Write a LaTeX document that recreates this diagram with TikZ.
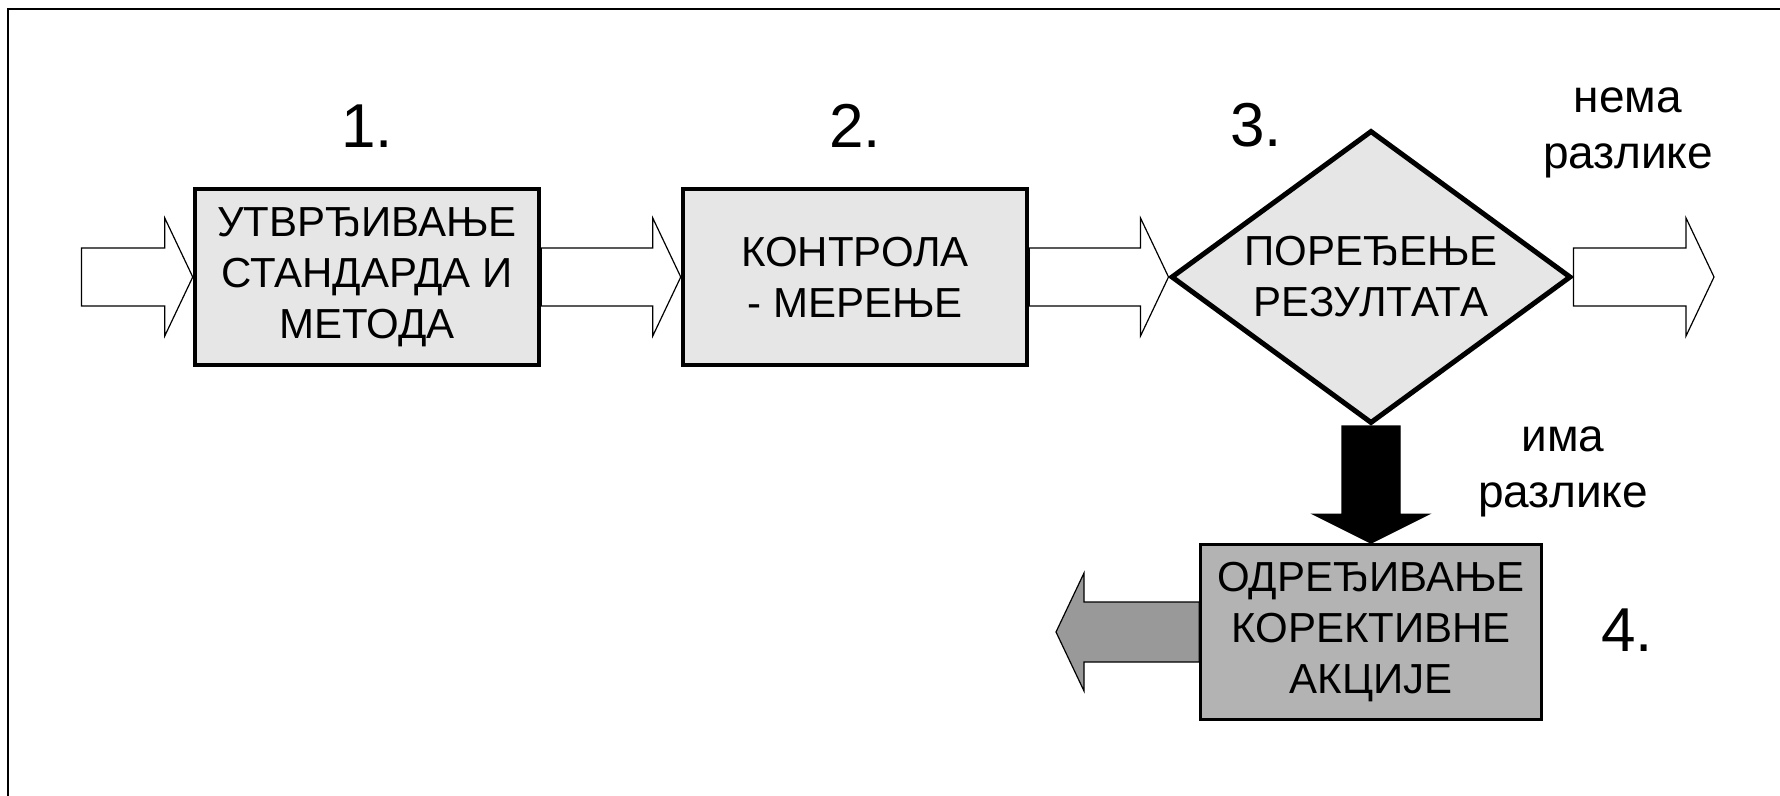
\documentclass[tikz,border=0pt]{standalone}
\usepackage{fontspec}
\setmainfont{Liberation Sans}
\usetikzlibrary{shapes.geometric,calc}
\pgfdeclarelayer{bg}
\pgfsetlayers{bg,main}
\definecolor{boxlight}{HTML}{E6E6E6}
\definecolor{boxdark}{HTML}{B3B3B3}
\definecolor{arrowgray}{HTML}{999999}
\newcommand{\boxfont}{\fontsize{21}{25.5}\selectfont}
\newcommand{\numfont}{\fontsize{31}{36}\selectfont}
\newcommand{\labfont}{\fontsize{23}{28}\selectfont}
% right-pointing block arrow: #1 = start point, #2 = tip
\newcommand{\rblk}[2]{%
  \draw[blk] ($(#1)+(0,-29)$) -- ($(#2)+(-28,-29)$) -- ($(#2)+(-28,-59)$) -- (#2)
    -- ($(#2)+(-28,59)$) -- ($(#2)+(-28,29)$) -- ($(#1)+(0,29)$) -- cycle;}
\tikzset{
  box/.style={draw, line width=2.25pt, fill=boxlight, align=center, inner sep=0pt,
    minimum width=172pt, minimum height=88pt, font=\boxfont},
  dec/.style={draw, shape=diamond, line width=2.5pt, fill=boxlight, align=center,
    inner sep=0pt, aspect=1.36, minimum width=200pt, minimum height=146.5pt, font=\boxfont},
  actbox/.style={draw, line width=1.4pt, fill=boxdark, align=center, inner sep=0pt,
    minimum width=170.5pt, minimum height=87.5pt, font=\boxfont},
  blk/.style={draw=black, line width=0.6pt, fill=white, line join=miter},
  num/.style={font=\numfont, inner sep=0pt, anchor=base},
  lab/.style={font=\labfont, align=center, inner sep=0pt},
  frameline/.style={line width=1pt}
}
\begin{document}
\begin{tikzpicture}[x=0.5pt,y=-0.5pt]
\useasboundingbox (0,0) rectangle (1780,796);
\draw[frameline] (1780,9.5) -- (8,9.5) -- (8,796);

\node[box] (b1) at (367,277) {УТВРЂИВАЊЕ\\СТАНДАРДА И\\МЕТОДА};
\node[box] (b2) at (855,277) {КОНТРОЛА\\- МЕРЕЊЕ};
\node[dec] (dia) at (1371,277) {ПОРЕЂЕЊЕ\\РЕЗУЛТАТА};
\node[actbox] (b4) at (1371,632) {ОДРЕЂИВАЊЕ\\КОРЕКТИВНЕ\\АКЦИЈЕ};

\node[num] (n1) at (367,148) {1.};
\node[num] (n2) at (855,148) {2.};
\node[num] (n3) at (1256,147) {3.};
\node[num] (n4) at (1627,651) {4.};

\node[lab] (nema) at (1628,133) {нема\\разлике};
\node[lab] (ima) at (1563,472) {има\\разлике};

\coordinate (in) at (81.5,277);
\coordinate (out) at (1714,277);
\coordinate (back) at (1056,632);

\begin{pgfonlayer}{bg}
\rblk{in}{b1.west}
\rblk{b1.east}{b2.west}
\rblk{b2.east}{dia.west}
\rblk{dia.east}{out}
\draw[blk, fill=black] ($(dia.south)+(-29,0)$) -- ($(b4.north)+(-29,-29)$) -- ($(b4.north)+(-58,-29)$)
  -- (b4.north) -- ($(b4.north)+(58,-29)$) -- ($(b4.north)+(29,-29)$) -- ($(dia.south)+(29,0)$) -- cycle;
\draw[blk, fill=arrowgray] ($(b4.west)+(0,-30)$) -- ($(back)+(28,-30)$) -- ($(back)+(28,-59)$)
  -- (back) -- ($(back)+(28,59)$) -- ($(back)+(28,30)$) -- ($(b4.west)+(0,30)$) -- cycle;
\end{pgfonlayer}
\end{tikzpicture}
\end{document}
